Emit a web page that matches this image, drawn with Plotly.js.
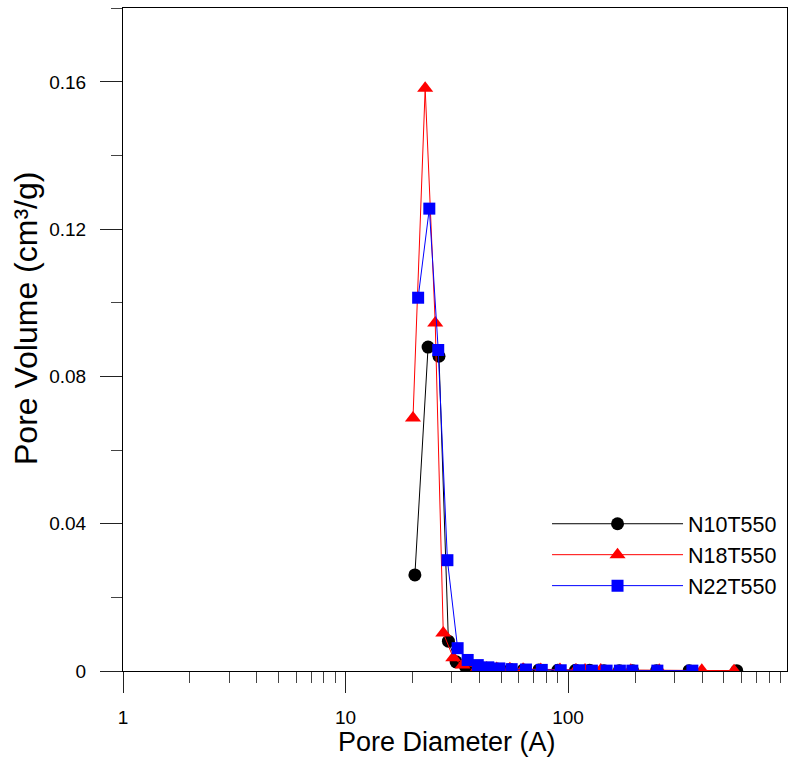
<!DOCTYPE html>
<html>
<head>
<meta charset="utf-8">
<script src="https://cdn.plot.ly/plotly-3.0.1.min.js"></script>
<style>html,body{margin:0;padding:0;background:#fff;}#chart{width:791px;height:758px;}</style>
</head>
<body>
<div id="chart"></div>
<script>
// Pore diameter (A) and pore volume (cm3/g)
var n10Diameter = [20.5, 23.5, 26.3, 29.0, 31.4, 34.6, 38.5, 43.0, 48.5, 55, 63, 74, 90, 108, 125, 145, 170, 195, 250, 350, 573];
var n10Volume   = [0.0261, 0.0880, 0.0855, 0.0081, 0.0025, 0.0012, 0.0008, 0.0006, 0.0005, 0.0004, 0.0003, 0.0003, 0.0002, 0.0002, 0.0002, 0.0001, 0.0001, 0.0001, 0.0001, 0.0001, 0.0001];

var n18Diameter = [20.1, 22.8, 25.3, 27.5, 30.5, 33.6, 39.4, 43.1, 47.8, 54.8, 62.8, 75.4, 92, 108.6, 119.2, 140.3, 191.4, 257, 399, 557];
var n18Volume   = [0.0687, 0.1583, 0.0945, 0.0103, 0.0036, 0.0016, 0.0010, 0.0008, 0.0007, 0.0006, 0.0005, 0.0004, 0.0004, 0.0003, 0.0003, 0.0003, 0.0002, 0.0002, 0.0002, 0.0001];

var n22Diameter = [21.2, 23.8, 26.1, 28.7, 31.9, 35.4, 39.3, 43.8, 49.1, 55.8, 64.7, 76.2, 92.7, 112, 128, 149, 171, 194.5, 252, 362];
var n22Volume   = [0.1014, 0.1256, 0.0872, 0.0301, 0.0062, 0.0030, 0.0016, 0.0010, 0.0007, 0.0005, 0.0004, 0.0003, 0.0002, 0.0002, 0.0001, 0.0001, 0.0001, 0.0001, 0.0001, 0.0001];

var seriesNames = ['N10T550', 'N18T550', 'N22T550'];

var xTickVals = [1, 10, 100];
var xTickText = ['1', '10', '100'];
var xMinorVals = [2,3,4,5,6,7,8,9,20,30,40,50,60,70,80,90,200,300,400,500,600,700,800,900];
var yTickVals = [0, 0.04, 0.08, 0.12, 0.16];
var yTickText = ['0', '0.04', '0.08', '0.12', '0.16'];
var yMinorVals = [0.02, 0.06, 0.10, 0.14, 0.18];

var FONT = 'Liberation Sans, Arial, sans-serif';

var traces = [
  {x: n10Diameter, y: n10Volume, name: seriesNames[0], type: 'scatter', mode: 'lines+markers',
   line: {color: '#000000', width: 1}, marker: {symbol: 'circle', size: 13, color: '#000000'}},
  {x: n18Diameter, y: n18Volume, name: seriesNames[1], type: 'scatter', mode: 'lines+markers',
   line: {color: '#ff0000', width: 1}, marker: {symbol: 'triangle-up', size: 14, color: '#ff0000'}},
  {x: n22Diameter, y: n22Volume, name: seriesNames[2], type: 'scatter', mode: 'lines+markers',
   line: {color: '#0000ff', width: 1}, marker: {symbol: 'square', size: 12, color: '#0000ff'}}
];

var layout = {
  width: 791, height: 758,
  margin: {l: 123, r: 4, t: 8, b: 87},
  paper_bgcolor: '#ffffff', plot_bgcolor: '#ffffff',
  font: {family: FONT, color: '#000000'},
  showlegend: true,
  legend: {x: 0.6386, y: 0.253, xanchor: 'left', yanchor: 'top', bgcolor: 'rgba(0,0,0,0)',
           font: {family: FONT, size: 21.5, color: '#000'}, itemwidth: 131, tracegroupgap: 0},
  xaxis: {type: 'log', range: [0, 2.984], showgrid: false, zeroline: false,
          showline: true, linecolor: '#000', linewidth: 1, mirror: true,
          tickmode: 'array', tickvals: xTickVals, ticktext: xTickText,
          ticks: 'outside', ticklen: 21, tickwidth: 1, tickcolor: '#222',
          tickfont: {family: FONT, size: 19, color: '#000'}, ticklabelstandoff: 8,
          minor: {tickmode: 'array', tickvals: xMinorVals, ticks: 'outside', ticklen: 11, tickwidth: 1, tickcolor: '#444', showgrid: false}},
  yaxis: {range: [0, 0.1801], showgrid: false, zeroline: false,
          showline: true, linecolor: '#000', linewidth: 1, mirror: true,
          tickmode: 'array', tickvals: yTickVals, ticktext: yTickText,
          ticks: 'outside', ticklen: 22, tickwidth: 1, tickcolor: '#222',
          tickfont: {family: FONT, size: 19, color: '#000'}, ticklabelstandoff: 10,
          minor: {tickmode: 'array', tickvals: yMinorVals, ticks: 'outside', ticklen: 11, tickwidth: 1, tickcolor: '#444', showgrid: false}},
  annotations: [
    {text: 'Pore Diameter (A)', xref: 'paper', yref: 'paper', x: 0.488, y: -0.107,
     xanchor: 'center', yanchor: 'middle', showarrow: false, font: {family: FONT, size: 27, color: '#000'}},
    {text: 'Pore Volume (cm\u00b3/g)', xref: 'paper', yref: 'paper', x: -0.145, y: 0.532,
     xanchor: 'center', yanchor: 'middle', textangle: -90, showarrow: false, font: {family: FONT, size: 32, color: '#000'}}
  ]
};

Plotly.newPlot('chart', traces, layout, {displayModeBar: false, staticPlot: true});
</script>
</body>
</html>
